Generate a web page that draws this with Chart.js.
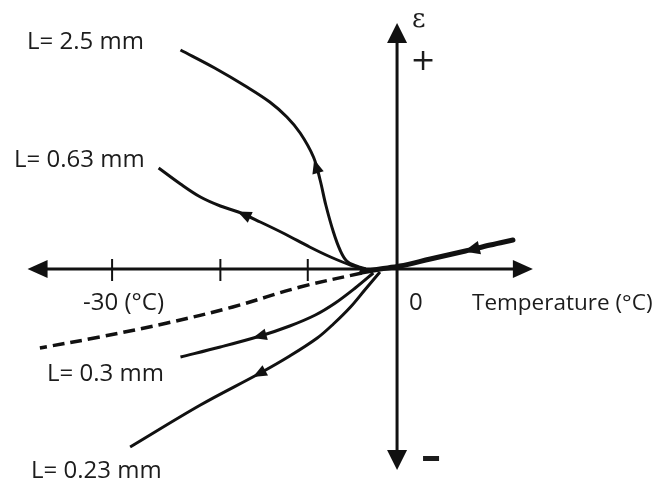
<!DOCTYPE html>
<html>
<head>
<meta charset="utf-8">
<script src="https://cdn.jsdelivr.net/npm/chart.js@4/dist/chart.umd.min.js"></script>
<style>
  body { margin: 0; background: #fff; }
  #wrap { width: 654px; height: 483px; }
</style>
</head>
<body>
<div id="wrap"><canvas id="strainChart" width="654" height="483"></canvas></div>
<script>
// temperature (°C) vs strain (arbitrary units)
// each curve listed in the direction of travel (cooling)
const coolingIn = [[12.2, 2.9], [9.8, 2.4], [7.2, 1.8], [3.5, 1.0], [0.3, 0.3], [-1.8, 0.0], [-3.7, -0.3]];
const curve25 = [[-3.3, 0.0], [-4.3, 0.3], [-5.3, 0.8], [-6.0, 1.9], [-6.7, 3.7], [-7.5, 6.4], [-8.1, 8.9],
  [-8.8, 11.2], [-10.2, 13.6], [-11.6, 15.2], [-13.4, 16.7], [-15.8, 18.2], [-19.2, 20.1], [-22.8, 21.9]];
const curve063 = [[-3.0, -0.1], [-4.9, 0.4], [-7.0, 1.2], [-9.2, 2.2], [-11.8, 3.5], [-14.4, 4.7], [-16.7, 5.7],
  [-18.6, 6.3], [-20.7, 7.2], [-22.8, 8.5], [-25.1, 10.1]];
const curve03 = [[-2.5, -0.4], [-4.4, -1.9], [-6.5, -3.4], [-8.6, -4.6], [-11.3, -5.7], [-14.4, -6.7],
  [-18.6, -7.8], [-22.8, -8.8]];
const curve023 = [[-1.8, -0.3], [-3.4, -2.1], [-4.9, -3.8], [-6.7, -5.5], [-8.4, -6.9], [-11.3, -8.7],
  [-14.4, -10.4], [-20.7, -13.6], [-28.1, -17.8]];
const dashedRef = [[-3.7, -0.4], [-10.2, -1.8], [-17.3, -3.8], [-24.2, -5.4], [-31.3, -6.8], [-37.6, -7.9]];

const curveLabels = ['L= 2.5 mm', 'L= 0.63 mm', 'L= 0.3 mm', 'L= 0.23 mm'];
const tickValues = [-30, -18.6, -9.4];
const tickLabels = ['-30 (°C)', '0'];
const axisTitle = 'Temperature (°C)';

const toPts = arr => arr.map(p => ({ x: p[0], y: p[1] }));

// arrowheads: dataset, segment index, position along segment
const arrowMarks = [
  { ds: 0, seg: 1, t: 0.75, size: 16 },
  { ds: 1, seg: 6, t: 0.6, size: 14 },
  { ds: 2, seg: 5, t: 0.75, size: 14 },
  { ds: 3, seg: 5, t: 0.02, size: 14 },
  { ds: 4, seg: 6, t: 0.02, size: 14 }
];

const ink = '#111';
const font = '24px "Open Sans"';

function triangle(ctx, x, y, ang, len, half) {
  ctx.save();
  ctx.translate(x, y);
  ctx.rotate(ang);
  ctx.beginPath();
  ctx.moveTo(0, 0);
  ctx.lineTo(-len, -half);
  ctx.lineTo(-len, half);
  ctx.closePath();
  ctx.fill();
  ctx.restore();
}

const sketchPlugin = {
  id: 'sketch',
  beforeDatasetsDraw(chart) {
    const ctx = chart.ctx;
    const xs = chart.scales.x, ys = chart.scales.y;
    const x0 = xs.getPixelForValue(0), y0 = ys.getPixelForValue(0);
    const left = xs.getPixelForValue(-38.9), right = xs.getPixelForValue(14.3);
    const top = ys.getPixelForValue(24.6), bottom = ys.getPixelForValue(-20.1);
    ctx.save();
    ctx.strokeStyle = ink;
    ctx.fillStyle = ink;
    ctx.lineWidth = 3;
    ctx.beginPath();
    ctx.moveTo(left + 10, y0); ctx.lineTo(right - 10, y0);
    ctx.moveTo(x0, top + 10); ctx.lineTo(x0, bottom - 10);
    ctx.stroke();
    triangle(ctx, left, y0, Math.PI, 20, 9);
    triangle(ctx, right, y0, 0, 20, 9);
    triangle(ctx, x0, top, -Math.PI / 2, 20, 10);
    triangle(ctx, x0, bottom, Math.PI / 2, 20, 10);
    ctx.lineWidth = 2;
    tickValues.forEach(v => {
      const px = xs.getPixelForValue(v);
      ctx.beginPath();
      ctx.moveTo(px, y0 - 10); ctx.lineTo(px, y0 + 12);
      ctx.stroke();
    });
    ctx.restore();
  },
  afterDatasetsDraw(chart) {
    const ctx = chart.ctx;
    const xs = chart.scales.x, ys = chart.scales.y;
    ctx.save();
    ctx.fillStyle = ink;
    arrowMarks.forEach(a => {
      const pts = chart.getDatasetMeta(a.ds).data;
      const p = pts[a.seg], q = pts[a.seg + 1];
      const ang = Math.atan2(q.y - p.y, q.x - p.x);
      const x = p.x + (q.x - p.x) * a.t, y = p.y + (q.y - p.y) * a.t;
      triangle(ctx, x + Math.cos(ang) * a.size / 2, y + Math.sin(ang) * a.size / 2, ang, a.size, a.size * 0.42);
    });

    ctx.font = font;
    ctx.fillStyle = '#1c1c1c';
    ctx.textBaseline = 'alphabetic';
    ctx.textAlign = 'left';
    const X = v => xs.getPixelForValue(v), Y = v => ys.getPixelForValue(v);
    ctx.fillText(curveLabels[0], 27, 49);
    ctx.fillText(curveLabels[1], 14, 167);
    ctx.fillText(curveLabels[2], 47, 381);
    ctx.fillText(curveLabels[3], 31, 478);
    ctx.fillText(tickLabels[0], X(tickValues[0]) - 29, Y(0) + 41);
    ctx.fillText(tickLabels[1], X(0) + 12, Y(0) + 41);
    ctx.font = '22.5px "Open Sans"';
    ctx.fillText(axisTitle, 472, Y(0) + 41);

    ctx.font = '26px "DejaVu Serif"';
    ctx.textBaseline = 'middle';
    ctx.fillText('ε', X(0) + 15, 20);
    ctx.font = '30px "DejaVu Sans"';
    ctx.textAlign = 'center';
    ctx.fillText('+', X(0) + 26, 62);
    ctx.fillRect(X(0) + 26, 456, 16, 5);
    ctx.restore();
  }
};

const lineDs = (pts, width, extra) => Object.assign({
  data: toPts(pts),
  showLine: true,
  borderColor: ink,
  borderWidth: width,
  pointRadius: 0,
  tension: 0.35,
  fill: false
}, extra || {});

new Chart(document.getElementById('strainChart').getContext('2d'), {
  type: 'scatter',
  data: {
    datasets: [
      lineDs(coolingIn, 5, { borderCapStyle: 'round' }),
      lineDs(curve25, 3),
      lineDs(curve063, 3),
      lineDs(curve03, 3),
      lineDs(curve023, 3),
      lineDs(dashedRef, 3.5, { borderDash: [12, 6] })
    ]
  },
  options: {
    responsive: false,
    animation: false,
    layout: { padding: 0 },
    plugins: { legend: { display: false }, tooltip: { enabled: false } },
    scales: {
      x: { type: 'linear', min: -41.8, max: 27.05, display: false },
      y: { type: 'linear', min: -21.4, max: 26.9, display: false }
    }
  },
  plugins: [sketchPlugin]
});
</script>
</body>
</html>
